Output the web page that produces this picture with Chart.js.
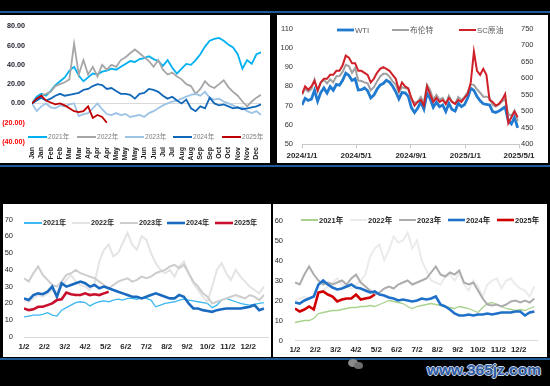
<!DOCTYPE html>
<html><head><meta charset="utf-8">
<script src="https://cdn.jsdelivr.net/npm/chart.js@4.4.0/dist/chart.umd.min.js"></script>
<style>
html,body{margin:0;padding:0;background:#000;}
body{width:550px;height:386px;overflow:hidden;position:relative;}
.hl{position:absolute;left:0;width:550px;height:2px;background:#1d5b97;}
canvas{position:absolute;background:#fff;}
#wm{position:absolute;left:427px;top:361px;font:bold 15.5px 'Liberation Sans',Arial,sans-serif;color:#2f5ca3;
 text-shadow:-1px 0 #c9d4e6,1px 0 #c9d4e6,0 -1px #c9d4e6,0 1px #c9d4e6;white-space:nowrap;}
.wx{position:absolute;background:#8a8a8a;border-radius:50%;}
</style></head>
<body>
<div class="hl" style="top:11px"></div>
<div class="hl" style="top:165px"></div>
<div class="hl" style="top:358px"></div>
<canvas id="tl" width="270" height="148" style="left:0;top:15px"></canvas>
<canvas id="tr" width="271" height="148" style="left:277px;top:15px"></canvas>
<canvas id="bl" width="268" height="153" style="left:3px;top:204px"></canvas>
<canvas id="br" width="274" height="153" style="left:273px;top:204px"></canvas>
<div class="wx" style="left:348px;top:359px;width:10px;height:8px"></div>
<div class="wx" style="left:354px;top:362px;width:9px;height:7px;background:#6f6f6f"></div>
<div id="wm">www.365jz.com</div>
<script>
const FONT = "'Liberation Sans','Noto Sans CJK SC',sans-serif";
Chart.defaults.font.family = FONT;

// ---------- Top-left: year-to-date change ----------
const TL_TICKS = ['Jan','Jan','Feb','Feb','Mar','Mar','Apr','Apr','Apr','May','May','May','Jun','Jun','Jul','Jul','Aug','Aug','Sep','Sep','Oct','Oct','Nov','Nov','Dec'];
const TL_2021 = [0,7,10,8,13,19,23,27,34,38,29,23,27,31,30,33,34,36,35,38,41,44,43,46,47,49,46,44,39,45,37,31,36,41,40,45,51,59,65,67,68,65,61,58,51,36,45,41,51,53];
const TL_2022 = [0,5,8,10,12,18,20,22,25,62,30,45,30,38,28,40,35,40,38,45,48,52,56,52,48,44,38,45,35,30,32,28,25,20,18,10,15,23,18,16,20,24,17,12,8,2,-3,2,6,9];
const TL_2023 = [0,-8,-3,0,-4,-5,-2,-3,-1,0,-13,-11,-10,-5,0,-6,-11,-12,-10,-12,-11,-14,-13,-12,-14,-10,-8,-5,-2,0,2,3,5,7,9,10,8,12,6,4,5,2,0,-2,-5,-4,-8,-10,-8,-12];
const TL_2024 = [0,3,6,3,5,8,10,8,9,10,11,14,15,18,20,19,15,16,13,10,10,9,5,10,11,15,14,12,8,5,7,3,0,4,-5,-8,-3,-5,6,0,-2,-1,-3,-5,-4,-6,-5,-4,-3,-1];
const TL_2025 = [0,5,8,3,1,-1,0,-2,-5,-8,-9,-8,-3,-15,-12,-14,-20];

// ---------- Top-right: WTI / Brent / SC (weekly) ----------
const TR_TICKS = ['2024/1/1','2024/5/1','2024/9/1','2025/1/1','2025/5/1'];
const TR_WTI = [70.4,73.8,72.7,73.4,78.0,72.3,76.8,79.2,76.5,79.9,78.0,81.0,80.6,83.2,86.9,85.7,83.1,83.9,78.1,78.3,79.2,77.7,74.0,75.5,78.5,80.7,81.5,83.2,82.2,80.1,77.2,73.5,76.8,76.7,74.8,69.0,66.5,68.7,71.9,68.2,76.5,73.6,69.2,71.8,69.5,70.4,67.0,71.2,68.0,67.2,71.3,69.5,70.6,74.0,79.0,77.9,74.7,72.5,71.0,70.7,70.4,67.0,66.5,67.2,68.3,69.4,62.0,60.5,64.0,58.5];
const TR_BRENT = [75.9,78.8,77.3,78.6,83.5,77.3,82.0,83.5,81.6,83.6,82.1,85.3,85.4,87.5,91.2,90.5,87.0,89.5,83.0,82.8,82.1,81.6,78.0,79.6,82.6,85.2,86.5,86.5,85.0,82.6,81.0,76.8,79.7,79.0,78.8,73.0,71.6,72.0,74.5,71.7,80.9,78.0,73.1,75.6,73.1,74.0,71.0,75.2,72.0,71.1,74.5,72.9,74.6,77.0,81.0,80.8,78.5,76.7,74.7,74.7,74.0,70.4,69.5,70.6,72.2,73.5,65.6,64.8,67.5,62.0];
const TR_SC = [552,575,565,575,592,563,587,598,598,610,610,622,622,639,668,662,645,645,622,622,616,610,587,598,616,628,633,628,622,610,598,563,587,575,569,540,517,528,534,517,575,552,528,540,528,534,522,540,528,522,534,528,540,552,587,680,622,610,628,610,534,528,517,522,534,552,464,482,499,482];

// ---------- Bottom charts ----------
const B_TICKS = ['1/2','2/2','3/2','4/2','5/2','6/2','7/2','8/2','9/2','10/2','11/2','12/2'];
const BL_2021 = [12,12.5,13,13,13.5,14.5,13,12.5,16,17.5,19,20.5,21,20.5,18.5,20,21,21.5,21,22,22.5,22,23,23,22.5,23.5,23,22,18,19,20,20.5,21,22,22.5,22,21.5,21,20.5,20,17.5,19,22,23,22,21,20,19.5,19,19.5,20,20.5];
const BL_2022 = [22,21,23,25,24,26,28,27,30,34,37,33,31,30,28,32,45,52,55,48,50,56,62,55,52,60,58,50,44,40,38,40,36,42,45,38,32,28,24,21,30,40,44,38,34,40,36,33,30,28,26,30];
const BL_2023 = [35,33,38,42,37,34,31,30,33,37,38,40,38,37,36,35,33,31,29,31,33,34,35,33,34,36,35,36,38,39,40,42,43,41,43,38,33,30,26,24,20,21,22,23,24,25,24,23,25,24,22,25];
const BL_2024 = [23,22,25,26,25.5,27,30,24,32,30,31,32,33,32,30,31,29,30,29,28,27,26,25,24,24,23,24,25,26,25,24,23,23,25,24,20,17,17,16,15.5,15,16,16.5,17,17,17,17,17.5,18,19,16,17];
const BL_2025 = [17,16,16.5,18,18,19,20,22,22.5,26.5,25.5,25,25,26,25,25.5,25,26,27];

const BR_2021 = [9,9.5,10,10,11,13.5,14,14.5,15,15,15.5,16,16.5,16.5,17,17,17.5,17,18,19,20,19.5,19,18.5,17,16,17,17.5,18,18.5,18,17.5,17,16.5,16,17,16.5,16,15,14,16.5,18.5,19,18,17,16,15.5,15,15.5,15,16,17];
const BR_2022 = [20,21,22,21,22,24,25,27,29,31,28,27,26,28,30,33,42,46,48,40,45,52,49,50,54,46,50,40,35,30,29,28,32,33,30,34,28,25,30,27,22,28,30,31,26,30,31,28,26,25,22,27];
const BR_2023 = [29,28,33,37,33,30,28,29,28,29,30,28,31,33,29,27,25,23,24,26,27,26,28,29,30,28,29,30,31,34,37,33,32,34,33,35,29,28,29,25,21,18,17.5,18,17,18,19.5,20,19,20,19,21];
const BR_2024 = [19,18.5,20,21,22,28,30,28,26.5,25.5,26,27,28,26.5,26,25,24,24.5,23,22.5,21.5,21,20,20.5,20,19.5,20,21,20.5,21,22,18,17,15.5,13.5,12.5,12.5,13,12.5,13,13,13.5,13,13.5,14,14,14,14.5,14.5,12.5,14,14.5];
const BR_2025 = [16,14.5,15.5,17,15.5,24,24.5,23,22,19.5,20.5,21,21,23,20.5,21,21.5,23];

// ---------- helpers ----------
function xy(arr, step){ return arr.map((v,i)=>({x:i*step, y:v})); }
function ds(label, data, color, width, order, axis){
  const o = {label, data, borderColor:color, backgroundColor:color, borderWidth:width, pointRadius:0, tension:0, fill:false, order};
  if (axis) o.yAxisID = axis;
  return o;
}
function makeLegend(cfg){
  return {
    id:'customLegend',
    afterDatasetsDraw(chart){
      const ctx = chart.ctx;
      ctx.save();
      ctx.font = cfg.font;
      ctx.textBaseline = 'middle';
      ctx.textAlign = 'left';
      chart.data.datasets.forEach((d,k)=>{
        const x = cfg.xs[k];
        ctx.strokeStyle = d.borderColor;
        ctx.lineWidth = Math.max(cfg.minLine, d.borderWidth);
        ctx.beginPath(); ctx.moveTo(x, cfg.y); ctx.lineTo(x+cfg.lineLen, cfg.y); ctx.stroke();
        ctx.fillStyle = cfg.color;
        ctx.fillText(d.label, x+cfg.textOff, cfg.y+0.5);
      });
      ctx.restore();
    }
  };
}
const base = {responsive:false, animation:false, devicePixelRatio:1, events:[]};
const noPlug = {legend:{display:false}, tooltip:{enabled:false}};

// ---------- Top-left ----------
new Chart(document.getElementById('tl'), {
  type:'line',
  data:{datasets:[
    ds('2021年', xy(TL_2021,1), '#00b0f0', 1.8, 5),
    ds('2022年', xy(TL_2022,1), '#a6a6a6', 1.8, 4),
    ds('2023年', xy(TL_2023,1), '#9dc3e6', 1.8, 3),
    ds('2024年', xy(TL_2024,1), '#1268b8', 1.8, 2),
    ds('2025年', xy(TL_2025,1), '#c00000', 1.8, 1)
  ]},
  options:Object.assign({}, base, {
    layout:{padding:{top:7, right:8, left:0, bottom:0}},
    plugins:noPlug,
    scales:{
      x:{type:'linear', min:0, max:TL_2021.length-1,
        afterBuildTicks:s=>{ s.ticks = TL_TICKS.map((t,i)=>({value:i*2})); },
        ticks:{autoSkip:false, minRotation:90, maxRotation:90, padding:5, color:'#1a1a1a',
          font:{size:7, weight:'bold'}, callback:(v,i)=>TL_TICKS[i]},
        grid:{display:false, drawTicks:false}, border:{display:false},
        afterFit:s=>{ s.height = 21; }},
      y:{min:-40, max:80,
        ticks:{stepSize:20, padding:7, font:{size:7.2, weight:'bold'},
          color:c=> c.tick && c.tick.value<0 ? '#ff0000' : '#1a1a2a',
          callback:v=> v<0 ? '('+(-v).toFixed(2)+')' : v.toFixed(2)},
        grid:{color:c=> c.tick && c.tick.value===0 ? '#d9d9d9' : 'rgba(0,0,0,0)', drawTicks:false, lineWidth:1},
        border:{display:false},
        afterFit:s=>{ s.width = 32; }}
    }
  }),
  plugins:[makeLegend({xs:[28,77,125,173,222], y:122, lineLen:19, textOff:20, minLine:2,
    font:"6.6px "+FONT, color:'#7f7f7f'})]
});

// ---------- Top-right ----------
const TR_DAY0 = Date.UTC(2024,0,1);
const TR_TICK_DAYS = TR_TICKS.map(s=>{ const p=s.split('/').map(Number); return Math.round((Date.UTC(p[0],p[1]-1,p[2])-TR_DAY0)/86400000); });
new Chart(document.getElementById('tr'), {
  type:'line',
  data:{datasets:[
    ds('WTI', xy(TR_WTI,7), '#1f7ad0', 2.8, 3),
    ds('布伦特', xy(TR_BRENT,7), '#a0a0a0', 2, 2),
    ds('SC原油', xy(TR_SC,7), '#d0202a', 2, 1, 'y1')
  ]},
  options:Object.assign({}, base, {
    layout:{padding:{top:9.3, right:0, left:0, bottom:0}},
    plugins:noPlug,
    scales:{
      x:{type:'linear', min:0, max:TR_TICK_DAYS[TR_TICK_DAYS.length-1],
        afterBuildTicks:s=>{ s.ticks = TR_TICK_DAYS.map(v=>({value:v})); },
        ticks:{autoSkip:false, maxRotation:0, minRotation:0, padding:3, color:'#262626',
          font:{size:8, weight:'bold'}, callback:(v,i)=>TR_TICKS[i]},
        grid:{display:true, drawOnChartArea:false, drawTicks:true, tickLength:4, color:'#c8c8c8'},
        border:{display:true, color:'#c8c8c8'},
        afterFit:s=>{ s.height = 18.7; }},
      y:{position:'left', min:50, max:110,
        ticks:{stepSize:10, padding:9, font:{size:7.5}, color:'#333333'},
        grid:{display:false, drawTicks:false}, border:{display:false},
        afterFit:s=>{ s.width = 25; }},
      y1:{position:'right', min:400, max:750,
        ticks:{stepSize:50, padding:2, font:{size:7.5}, color:'#333333'},
        grid:{display:false, drawTicks:false}, border:{display:false},
        afterFit:s=>{ s.width = 29; }}
    }
  }),
  plugins:[makeLegend({xs:[60,115,182], y:15, lineLen:17, textOff:18, minLine:2,
    font:"7.8px "+FONT, color:'#595959'})]
});

// ---------- Bottom charts ----------
function bottomChart(id, series, colors, widths, yMax, xMax, pad, yPad, yW, xH, xPad, leg){
  const names = ['2021年','2022年','2023年','2024年','2025年'];
  new Chart(document.getElementById(id), {
    type:'line',
    data:{datasets: series.map((s,k)=>ds(names[k], xy(s,12/52), colors[k], widths[k], 5-k))},
    options:Object.assign({}, base, {
      layout:{padding:pad},
      plugins:noPlug,
      scales:{
        x:{type:'linear', min:0, max:xMax,
          afterBuildTicks:s=>{ s.ticks = B_TICKS.map((t,i)=>({value:i})); },
          ticks:{autoSkip:false, maxRotation:0, minRotation:0, padding:xPad, color:'#262626',
            font:{size:8, weight:'bold'}, callback:(v,i)=>B_TICKS[i]},
          grid:{display:true, drawOnChartArea:false, drawTicks:false, color:'#d9d9d9'},
          border:{display:true, color:'#d9d9d9'},
          afterFit:s=>{ s.height = xH; }},
        y:{min:0, max:yMax,
          ticks:{stepSize:10, padding:yPad, font:{size:7.5}, color:'#262626'},
          grid:{display:false, drawTicks:false}, border:{display:false},
          afterFit:s=>{ s.width = yW; }}
      }
    }),
    plugins:[makeLegend(leg)]
  });
}
bottomChart('bl', [BL_2021,BL_2022,BL_2023,BL_2024,BL_2025],
  ['#3db8f0','#e4e4e4','#cdcdcd','#1a6bc0','#c8102e'], [1.3,2,2,2.6,2.6],
  70, 11.97, {top:12, right:3, left:0, bottom:0}, 11, 21, 20, 5,
  {xs:[21,69,117,164,212], y:19, lineLen:18, textOff:19, minLine:2, font:"bold 7.2px "+FONT, color:'#262626'});
bottomChart('br', [BR_2021,BR_2022,BR_2023,BR_2024,BR_2025],
  ['#a9d18e','#ebebeb','#acacac','#1f70c8','#d00000'], [1.3,2,2,2.6,2.6],
  60, 11.9, {top:12.7, right:10, left:0, bottom:0}, 12, 22, 15.3, 4,
  {xs:[28,77,126,175,224], y:16, lineLen:17, textOff:18, minLine:2, font:"bold 7.5px "+FONT, color:'#262626'});
</script>
</body></html>
